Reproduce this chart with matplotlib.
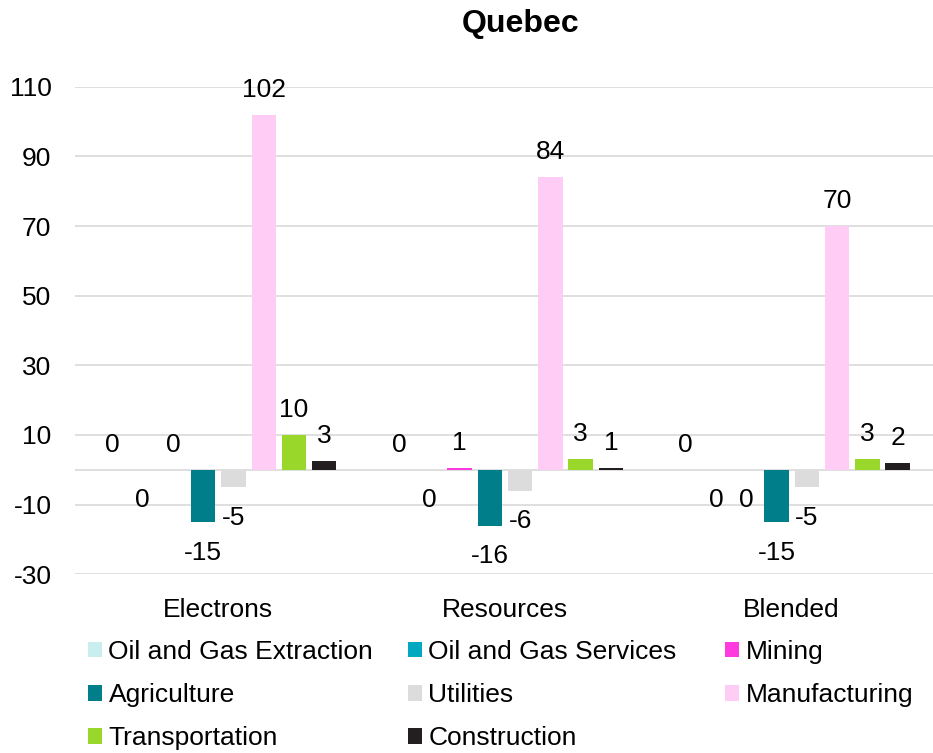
import matplotlib
matplotlib.use("Agg")
import matplotlib.pyplot as plt
from matplotlib.patches import Patch
import numpy as np

plt.rcParams['font.family'] = ['Liberation Sans', 'DejaVu Sans']

categories = ["Electrons", "Resources", "Blended"]
series_names = ["Oil and Gas Extraction", "Oil and Gas Services", "Mining",
                "Agriculture", "Utilities", "Manufacturing",
                "Transportation", "Construction"]
extraction = [0.0, 0.0, 0.0]
services = [-0.02, -0.02, -0.02]
mining = [0.0, 0.5, -0.02]
agriculture = [-15, -16, -15]
utilities = [-5, -6, -5]
manufacturing = [102, 84, 70]
transportation = [10, 3, 3]
construction = [2.6, 0.5, 2]
colors = ["#C9EEF0", "#00A9C0", "#FF3BE0", "#007F8A", "#DCDCDC",
          "#FFCCF6", "#99D82A", "#231F20"]
yticks = [-30, -10, 10, 30, 50, 70, 90, 110]

series = [extraction, services, mining, agriculture, utilities,
          manufacturing, transportation, construction]

fig = plt.figure(figsize=(9.33, 7.53), dpi=100)
ax = fig.add_axes([75/933, 1-574.3/753, 860/933, (574.3-86.7)/753])

x = np.arange(len(categories))
pitch = 0.1056
width = 0.085
n = len(series)
FS = 19


def fmt(v):
    r = int(np.floor(abs(v) + 0.5))
    if v < 0 and r != 0:
        return f"-{r}"
    return f"{r}"


for i, (name, vals, col) in enumerate(zip(series_names, series, colors)):
    xs = x + (i - (n - 1) / 2) * pitch
    ax.bar(xs, vals, width=width, color=col, label=name, zorder=3)
    for xi, v in zip(xs, vals):
        if v >= 0:
            ax.annotate(fmt(v), (xi, v), xytext=(0, 25), textcoords='offset pixels',
                        ha='center', va='center', fontsize=FS, color='#000000', zorder=4)
        else:
            ax.annotate(fmt(v), (xi, v), xytext=(0, -30.5), textcoords='offset pixels',
                        ha='center', va='center', fontsize=FS, color='#000000', zorder=4)

ax.set_xlim(-0.5, 2.5)
ax.set_ylim(-30, 110)
ax.set_yticks(yticks)
ax.set_yticklabels([str(t) for t in yticks])
ax.set_xticks(x)
ax.set_xticklabels(categories)
ax.tick_params(axis='both', length=0, labelsize=FS, colors='#000000')
ax.tick_params(axis='y', pad=17)
ax.tick_params(axis='x', pad=17)
ax.yaxis.grid(True, color='#D9D9D9', linewidth=1.2, zorder=0)
ax.axhline(0, color='#D9D9D9', linewidth=1.2, zorder=1)
for s in ax.spines.values():
    s.set_visible(False)

fig.text(521/933, 1-24/753, "Quebec", ha='center', va='center',
         fontsize=23, fontweight='bold')

handles = [Patch(facecolor=c, edgecolor='none', label=nm) for c, nm in zip(colors, series_names)]
col_x = [80/933, 400/933, 717/933]
for c in range(3):
    hs = handles[c::3]
    leg = fig.legend(handles=hs, loc='upper left', bbox_to_anchor=(col_x[c], 1-632/753),
                     frameon=False, fontsize=FS, handlelength=0.53, handleheight=0.53,
                     handletextpad=0.25, labelspacing=0.73, borderaxespad=0, borderpad=0.3)

fig.savefig("out.png", dpi=100)
